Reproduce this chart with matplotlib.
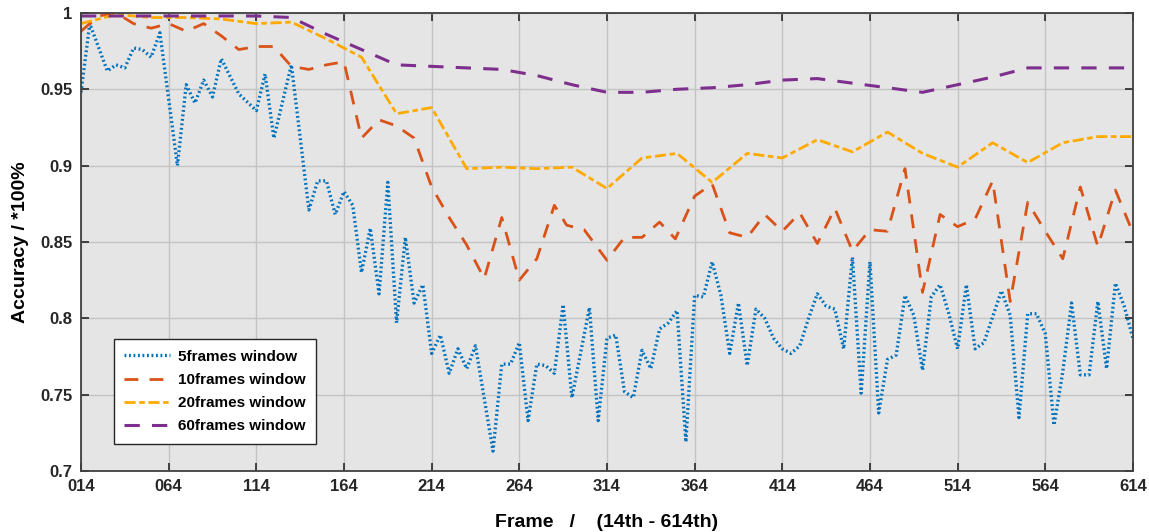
import matplotlib
matplotlib.use("Agg")
import matplotlib.pyplot as plt
from matplotlib.ticker import FixedLocator, FuncFormatter

plt.rcParams['font.family'] = ['Liberation Sans Narrow', 'Liberation Sans', 'DejaVu Sans']

# ---- data ----
blue_x = [14, 19, 29, 34, 39, 44, 49, 54, 59, 69, 74, 79, 84, 89, 94, 104, 114, 119, 124, 134,
          144, 149, 154, 159, 164, 169, 174, 179, 184, 189, 194, 199, 204, 209, 214, 219, 224, 229,
          234, 239, 249, 254, 259, 264, 269, 274, 279, 284, 289, 294, 304, 309, 314, 319, 324, 329,
          334, 339, 344, 349, 354, 359, 364, 369, 374, 379, 384, 389, 394, 399, 404, 409, 414, 419,
          424, 429, 434, 439, 444, 449, 454, 459, 464, 469, 474, 479, 484, 489, 494, 499, 504, 509,
          514, 519, 524, 529, 534, 539, 544, 549, 554, 559, 564, 569, 574, 579, 584, 589, 594, 599,
          604, 609, 614]
blue_y = [0.948, 0.993, 0.962, 0.966, 0.964, 0.977, 0.976, 0.971, 0.987, 0.900, 0.953, 0.941,
          0.956, 0.945, 0.970, 0.947, 0.936, 0.960, 0.918, 0.966,
          0.871, 0.890, 0.890, 0.868, 0.883, 0.874, 0.830, 0.859, 0.816, 0.889, 0.797, 0.853,
          0.810, 0.822, 0.777, 0.789, 0.764, 0.780, 0.767, 0.782, 0.713, 0.770, 0.770, 0.784,
          0.733, 0.770, 0.769, 0.764, 0.809, 0.748, 0.807, 0.733, 0.787, 0.789, 0.752, 0.748,
          0.779, 0.767, 0.793, 0.797, 0.805, 0.719, 0.815, 0.814, 0.837, 0.815, 0.777, 0.810,
          0.769, 0.806, 0.800, 0.787, 0.780, 0.777, 0.782, 0.800, 0.816, 0.808, 0.806, 0.780,
          0.840, 0.751, 0.837, 0.738, 0.773, 0.776, 0.815, 0.802, 0.766, 0.814, 0.822, 0.803,
          0.780, 0.822, 0.780, 0.784, 0.801, 0.818, 0.802, 0.735, 0.803, 0.803, 0.790, 0.730,
          0.765, 0.810, 0.763, 0.763, 0.811, 0.767, 0.823, 0.808, 0.787]

orange_x = [14, 24, 34, 44, 54, 64, 74, 84, 94, 104, 114, 124, 134, 144, 154, 164, 174, 184, 194,
            204, 214, 224, 234, 244, 254, 264, 274, 284, 291, 301, 314, 324, 334, 344, 353, 364,
            374, 384, 394, 404, 414, 424, 434, 444, 454, 464, 474, 484, 494, 504, 514, 524, 534,
            544, 554, 564, 574, 584, 594, 604, 614]
orange_y = [0.988, 0.998, 1.000, 0.993, 0.990, 0.993, 0.988, 0.993, 0.985, 0.976, 0.978, 0.978,
            0.965, 0.963, 0.966, 0.968, 0.918, 0.930, 0.926, 0.918, 0.886, 0.866, 0.848, 0.826,
            0.866, 0.825, 0.839, 0.874, 0.861, 0.858, 0.838, 0.853, 0.853, 0.863, 0.852, 0.880,
            0.888, 0.856, 0.853, 0.868, 0.857, 0.869, 0.849, 0.872, 0.844, 0.858, 0.857, 0.898,
            0.817, 0.868, 0.860, 0.865, 0.890, 0.811, 0.876, 0.857, 0.839, 0.886, 0.847, 0.884,
            0.856]

yellow_x = [14, 34, 54, 74, 94, 114, 134, 154, 174, 194, 214, 234, 254, 274, 294, 314, 334, 354,
            374, 394, 414, 434, 454, 474, 494, 514, 534, 554, 574, 594, 614]
yellow_y = [0.993, 0.999, 0.997, 0.997, 0.996, 0.993, 0.994, 0.983, 0.971, 0.934, 0.938, 0.898,
            0.899, 0.898, 0.899, 0.885, 0.905, 0.908, 0.889, 0.908, 0.905, 0.917, 0.909, 0.922,
            0.908, 0.899, 0.915, 0.902, 0.915, 0.919, 0.919]

purple_x = [14, 34, 54, 74, 94, 114, 134, 154, 174, 194, 214, 234, 254, 274, 294, 314, 334, 354,
            374, 394, 414, 434, 454, 474, 494, 514, 534, 554, 574, 594, 614]
purple_y = [0.998, 0.998, 0.998, 0.998, 0.998, 0.998, 0.997, 0.986, 0.976, 0.966, 0.965, 0.964,
            0.963, 0.959, 0.953, 0.948, 0.948, 0.950, 0.951, 0.953, 0.956, 0.957, 0.954, 0.951,
            0.948, 0.953, 0.958, 0.964, 0.964, 0.964, 0.964]

labels = ['5frames window', '10frames window', '20frames window', '60frames window']
x_ticks = [14, 64, 114, 164, 214, 264, 314, 364, 414, 464, 514, 564, 614]
y_ticks = [0.7, 0.75, 0.8, 0.85, 0.9, 0.95, 1.0]
y_tick_labels = ['0.7', '0.75', '0.8', '0.85', '0.9', '0.95', '1']

# ---- figure ----
fig = plt.figure(figsize=(11.49, 5.32), dpi=100)
ax = fig.add_axes([0.0705, 0.1147, 0.9155, 0.861])
ax.set_facecolor('#e5e5e5')

ax.plot(blue_x, blue_y, color='#0072BD', lw=2.4, linestyle=(0, (0.55, 0.8)), label=labels[0])
ax.plot(orange_x, orange_y, color='#D95319', lw=2.0, linestyle=(0, (5, 4)), label=labels[1])
ax.plot(yellow_x, yellow_y, color='#FFAA00', lw=2.0, linestyle=(0, (4, 1.3, 2, 1.3)), label=labels[2])
ax.plot(purple_x, purple_y, color='#7E2F8E', lw=2.2, linestyle=(0, (5, 4)), label=labels[3])

ax.set_xlim(14, 614)
ax.set_ylim(0.7, 1.0)
ax.xaxis.set_major_locator(FixedLocator(x_ticks))
ax.xaxis.set_major_formatter(FuncFormatter(lambda v, p: '%03d' % int(round(v))))
ax.set_yticks(y_ticks)
ax.set_yticklabels(y_tick_labels)

ax.grid(True, color='#c4c4c4', lw=1.0)
ax.set_axisbelow(True)
ax.tick_params(direction='in', length=6, width=1.2, top=True, right=True,
               labelsize=12, colors='#262626', pad=6)
for lab in ax.get_xticklabels() + ax.get_yticklabels():
    lab.set_fontweight('bold')
for s in ax.spines.values():
    s.set_color('#404040')
    s.set_linewidth(1.3)

ax.set_xlabel('Frame   /    (14th - 614th)', fontsize=14, fontweight='bold',
              family=['Liberation Sans', 'DejaVu Sans'], labelpad=14)
ax.set_ylabel('Accuracy / *100%', fontsize=14, fontweight='bold',
              family=['Liberation Sans', 'DejaVu Sans'], labelpad=8)

leg = ax.legend(loc='lower left', bbox_to_anchor=(0.031, 0.059), borderaxespad=0,
                fancybox=False, framealpha=1, edgecolor='#262626', handlelength=3.0,
                handletextpad=0.5, borderpad=0.7, labelspacing=0.6,
                prop={'family': ['Liberation Sans', 'DejaVu Sans'], 'weight': 'bold', 'size': 11})
leg.get_frame().set_linewidth(1.0)

fig.savefig('out.png', dpi=100)
